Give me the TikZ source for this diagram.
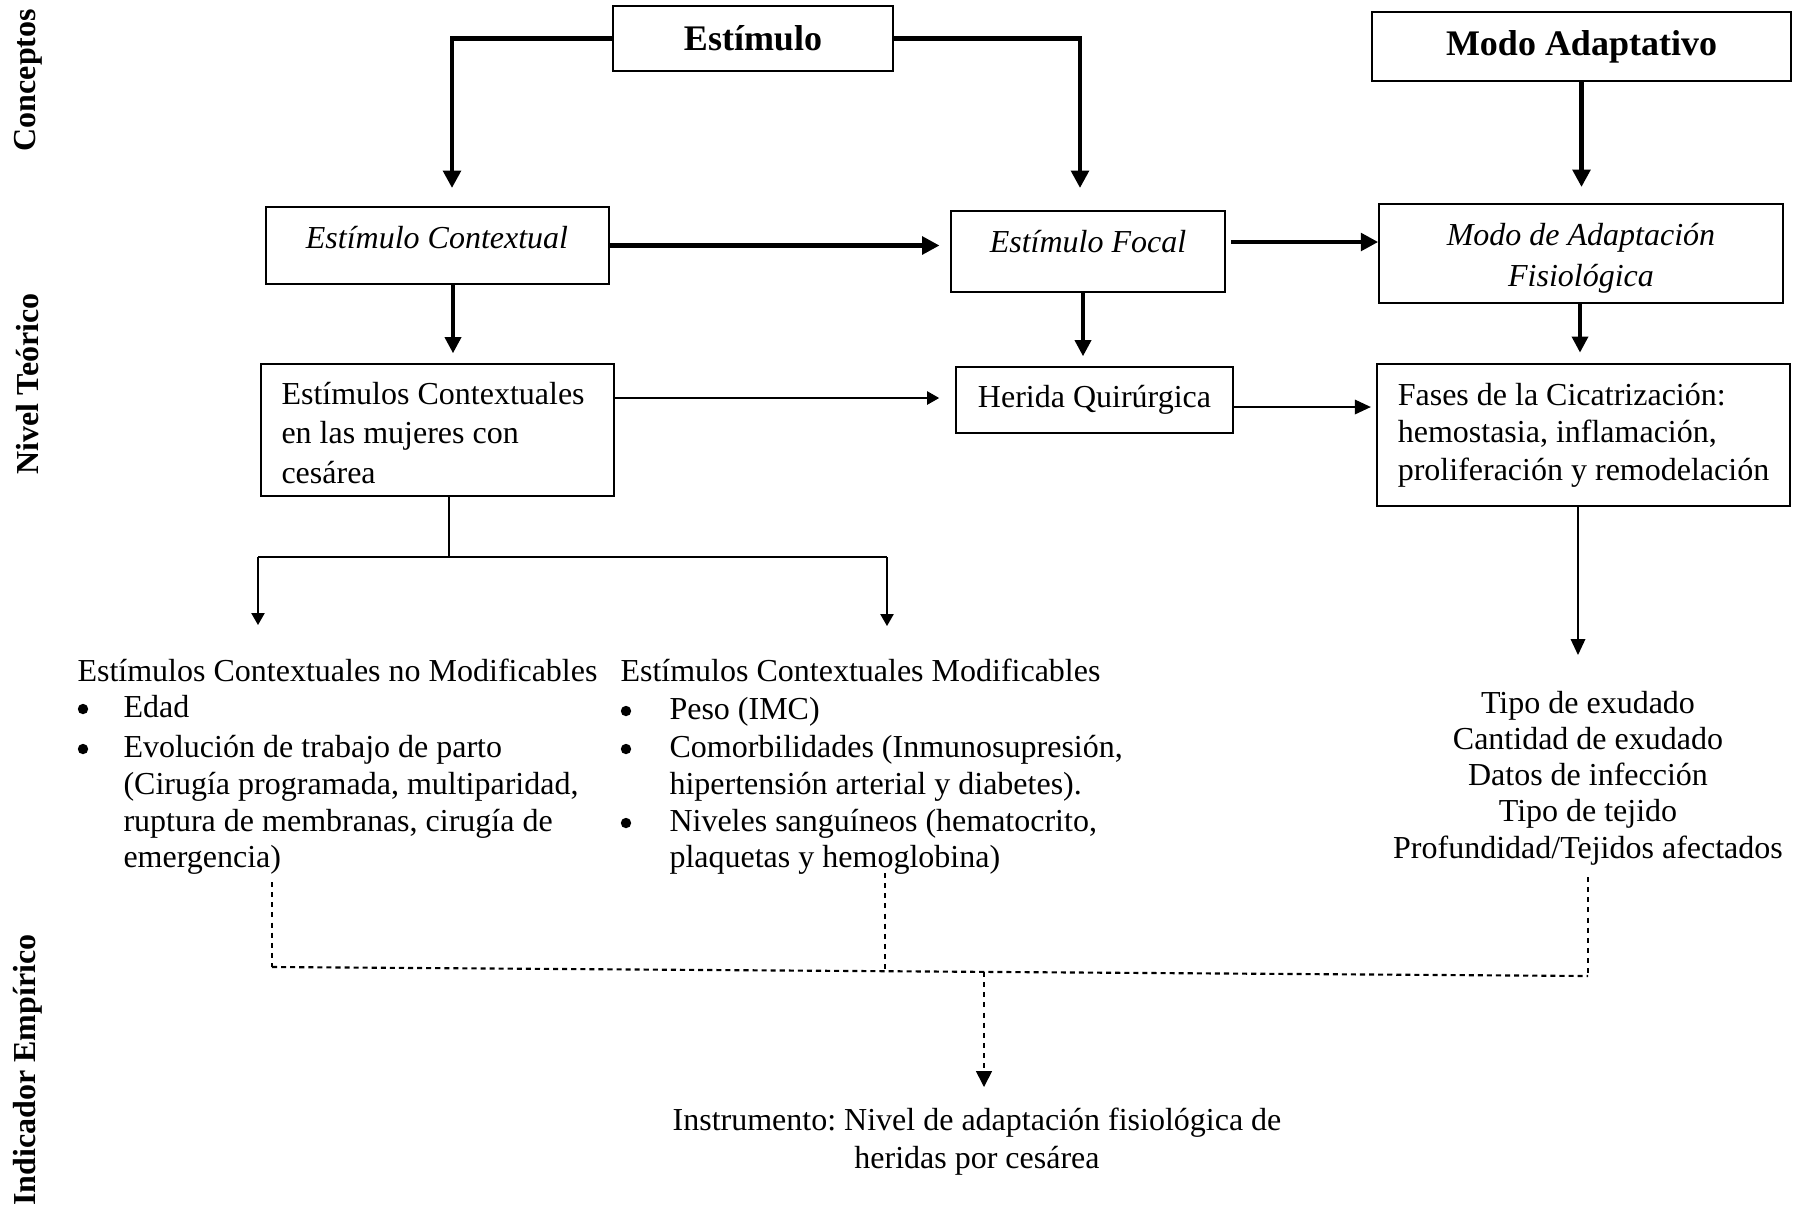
\documentclass[tikz,border=0pt]{standalone}
\usepackage{fontspec}
\setmainfont{Liberation Serif}
\frenchspacing
\usetikzlibrary{arrows.meta,calc}
\begin{document}
\begin{tikzpicture}[x=0.375pt,y=-0.375pt,
  box/.style={draw, line width=0.6pt, inner sep=0pt},
  txt/.style={font=\fontsize{12}{13.6}\selectfont, inner sep=0pt},
  itxt/.style={font=\fontsize{12}{14}\selectfont\itshape, inner sep=0pt},
  headtxt/.style={font=\fontsize{13.5}{16}\selectfont\bfseries},
  sidetxt/.style={font=\fontsize{12}{14}\selectfont\bfseries, rotate=90, inner sep=0pt},
  bigarrow/.style={line width=1.7pt, -{Triangle[length=6.5pt,width=6.5pt]}},
  midarrow/.style={line width=1.3pt, -{Triangle[length=6pt,width=6pt]}},
  thinarrow/.style={line width=0.5pt, -{Triangle[length=6pt,width=5.5pt]}},
  smallarrow/.style={line width=0.5pt, -{Triangle[length=4.5pt,width=5pt]}},
  thinline/.style={line width=0.5pt},
  dashline/.style={line width=0.6pt, dash pattern=on 1.9pt off 1.9pt},
  dotline/.style={line width=0.8pt, dash pattern=on 1.9pt off 1.5pt},
  bulletdot/.style={fill=black},
]
\useasboundingbox (0,0) rectangle (1803,1213);

% side labels
\node[sidetxt] (lconc) at (28,80) {Conceptos};
\node[sidetxt] (lniv) at (28,384) {Nivel Teórico};
\node[sidetxt] (lind) at (28,1070) {Indicador Empírico};

% top boxes
\node[box, headtxt, minimum width=105pt, minimum height=24.4pt] (est) at (753,38.5) {Estímulo};
\node[box, headtxt, minimum width=157.1pt, minimum height=25.9pt] (ma) at (1581.5,46.5) {Modo Adaptativo};

% second row
\node[box, minimum width=128.6pt, minimum height=28.9pt] (ec) at (437.5,245.5) {};
\node[itxt] (ect) at (437,238) {Estímulo Contextual};
\node[box, minimum width=102.75pt, minimum height=30.4pt] (ef) at (1088,251.5) {};
\node[itxt] (eft) at (1088,242) {Estímulo Focal};
\node[box, minimum width=151.5pt, minimum height=37.1pt] (maf) at (1581,253.5) {};
\node[itxt, align=center, font=\fontsize{12}{15.4}\selectfont\itshape] (maft) at (1581,258) {Modo de Adaptación\\Fisiológica};

% third row
\node[box, minimum width=132.4pt, minimum height=49.5pt] (ecm) at (437.5,430) {};
\node[txt, align=left, font=\fontsize{12}{14.7}\selectfont, anchor=west] (ecmt) at (281,433) {Estímulos Contextuales\\en las mujeres con\\cesárea};
\node[box, txt, minimum width=103.9pt, minimum height=24.75pt] (her) at (1094.5,400) {Herida Quirúrgica};
\node[box, txt, align=left, font=\fontsize{12}{14.1}\selectfont, minimum width=154.9pt, minimum height=53.25pt] (fas) at (1583.5,435) {Fases de la Cicatrización:\\hemostasia, inflamación,\\proliferación y remodelación};

% left list
\node[txt, anchor=base west] (nm0) at (77,681) {Estímulos Contextuales no Modificables};
\node[txt, anchor=base west] (nm1) at (123,717) {Edad};
\node[txt, anchor=base west] (nm2) at (123,757) {Evolución de trabajo de parto};
\node[txt, anchor=base west] (nm3) at (123,794) {(Cirugía programada, multiparidad,};
\node[txt, anchor=base west] (nm4) at (123,831) {ruptura de membranas, cirugía de};
\node[txt, anchor=base west] (nm5) at (123,867) {emergencia)};
\fill[bulletdot] (83,709) circle[radius=5.2];
\fill[bulletdot] (83,749) circle[radius=5.2];

% right list
\node[txt, anchor=base west] (m0) at (620,681) {Estímulos Contextuales Modificables};
\node[txt, anchor=base west] (m1) at (669,719) {Peso (IMC)};
\node[txt, anchor=base west] (m2) at (669,757) {Comorbilidades (Inmunosupresión,};
\node[txt, anchor=base west] (m3) at (669,794) {hipertensión arterial y diabetes).};
\node[txt, anchor=base west] (m4) at (669,831) {Niveles sanguíneos (hematocrito,};
\node[txt, anchor=base west] (m5) at (669,867) {plaquetas y hemoglobina)};
\fill[bulletdot] (626,711) circle[radius=5.2];
\fill[bulletdot] (626,749) circle[radius=5.2];
\fill[bulletdot] (626,823) circle[radius=5.2];

% indicators
\node[txt, align=center] (ind) at (1588,778) {Tipo de exudado\\Cantidad de exudado\\Datos de infección\\Tipo de tejido\\Profundidad/Tejidos afectados};

% instrument
\node[txt, align=center, font=\fontsize{12}{14.25}\selectfont] (ins) at (977,1142) {Instrumento: Nivel de adaptación fisiológica de\\heridas por cesárea};

% connectors: top
\coordinate (a1) at (452,188);
\coordinate (a2) at (1080,188);
\draw[bigarrow] (est.west) -| (a1);
\draw[bigarrow] (est.east) -| (a2);
\draw[bigarrow] (ma.south) -- (ma.south |- 0,187);
\draw[bigarrow, shorten >=4pt] (ec.east) -- (ec.east -| ef.west);
\draw[bigarrow, shorten <=2pt] (ef.east |- 0,242) -- (maf.west |- 0,242);

% second to third row
\draw[midarrow, shorten >=3.75pt] (ec.south -| 453,0) -- (ecm.north -| 453,0);
\draw[midarrow, shorten >=3.75pt] (ef.south -| 1083,0) -- (her.north -| 1083,0);
\draw[midarrow, shorten >=4pt] (maf.south -| 1580,0) -- (fas.north -| 1580,0);

% third row horizontals
\draw[smallarrow, shorten >=6pt] (ecm.east |- 0,398) -- (her.west |- 0,398);
\draw[thinarrow, shorten >=2pt] (her.east |- 0,407) -- (fas.west |- 0,407);

% branch
\coordinate (j) at (449,557);
\coordinate (jl) at (258,557);
\coordinate (jr) at (887,557);
\coordinate (tl) at (258,625);
\coordinate (tr) at (887,626);
\draw[thinline] (ecm.south -| j) -- (j);
\draw[thinline] (jl) -- (jr);
\draw[smallarrow] (jl) -- (tl);
\draw[smallarrow] (jr) -- (tr);

% fases down
\coordinate (tf) at (1578,655);
\draw[thinarrow] (fas.south -| tf) -- (tf);

% dashed collectors
\coordinate (d1t) at (272,882);
\coordinate (d1b) at (272,967);
\coordinate (d2t) at (885,873);
\coordinate (d2b) at (885,971.2);
\coordinate (d3t) at (1588,877);
\coordinate (d3b) at (1588,976);
\coordinate (d4t) at (984,972);
\coordinate (d4b) at (984,1087);
\draw[dashline] (d1t) -- (d1b);
\draw[dashline] (d2t) -- (d2b);
\draw[dashline] (d3t) -- (d3b);
\draw[dotline] (d1b) -- (d3b);
\draw[dashline, -{Triangle[length=6pt,width=6pt]}] (d4t) -- (d4b);
\end{tikzpicture}
\end{document}
